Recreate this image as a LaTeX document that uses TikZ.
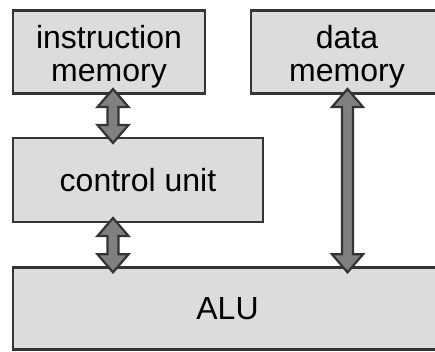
\documentclass[tikz,border=0pt]{standalone}
\usepackage{fontspec}
\setmainfont{Liberation Sans}
\usepackage{tikz}
\usetikzlibrary{calc}

\definecolor{boxgray}{RGB}{220,220,220}
\definecolor{edgegray}{RGB}{52,52,52}
\definecolor{busgray}{RGB}{128,128,128}

% double block arrow: top tip (#1), bottom tip (#2), same x as (#1)
\newcommand{\busarrow}[2]{%
  \draw[bus] let \p1=(#1), \p2=(#2) in
    (\x1,\y1)--(\x1+15.5pt,\y1-18pt)--(\x1+5.5pt,\y1-18pt)--(\x1+5.5pt,\y2+18pt)
    --(\x1+15.5pt,\y2+18pt)--(\x1,\y2)--(\x1-15.5pt,\y2+18pt)--(\x1-5.5pt,\y2+18pt)
    --(\x1-5.5pt,\y1-18pt)--(\x1-15.5pt,\y1-18pt)--cycle;}

\begin{document}
\begin{tikzpicture}[x=1pt,y=-1pt,
    unit/.style={draw=edgegray, line width=2.5pt, fill=boxgray, inner sep=0pt, outer sep=0pt,
                 anchor=north west, align=center, font=\fontsize{32}{33}\selectfont},
    bus/.style={draw=edgegray, line width=2.2pt, fill=busgray, line join=miter}]
  \clip (0,0) rectangle (435,351);
  \node[unit, minimum width=192, minimum height=83] (imem) at (13,10.5) {\rule{0pt}{33pt}instruction\\memory};
  \node[unit, minimum width=192, minimum height=83] (dmem) at (251,10.5) {\rule{0pt}{33pt}data\\memory};
  \node[unit, minimum width=250, minimum height=84] (cu) at (13,138) {control unit};
  \node[unit, minimum width=429, minimum height=82] (alu) at (13,267.3) {ALU};
  \busarrow{$(imem.south)+(4,-4.5)$}{$(cu.north)+(0,5)$}
  \busarrow{$(cu.south west)+(100,-4)$}{$(alu.north)+(0,5)$}
  \busarrow{$(dmem.south)+(0.5,-4.5)$}{$(alu.north)+(0,5)$}
\end{tikzpicture}
\end{document}
